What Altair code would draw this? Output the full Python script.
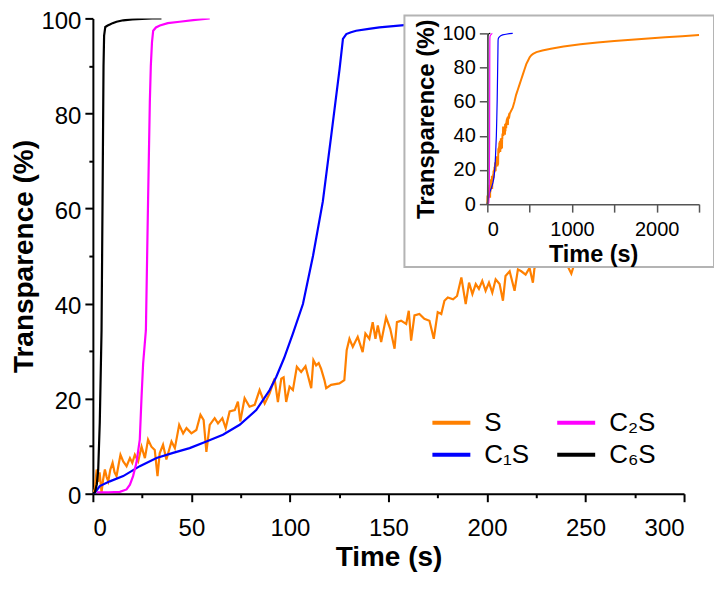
import altair as alt
import pandas as pd

# ---------------- data ----------------
s_t = [0, 1, 1.9, 2.6, 3.4, 4.4, 5.2, 6.1, 7, 7.8, 8.8, 10, 11, 12, 13, 14, 15.4, 17.1, 18.8, 20,
       21.3, 23, 24.7, 26.4, 28, 29.7, 31.4, 32.8, 33.9, 35.6, 37.3, 39.9, 41.6, 43.8, 45.8, 47.5,
       50, 52.5, 54.6, 56.2, 57.6, 59.3, 61.8, 63.5, 65.7, 67.4, 69.4, 72, 73.6, 74.8, 77, 79.5,
       82.1, 84.6, 87.2, 89.7, 92.2, 93.9, 95.6, 96.8, 98.1, 99.8, 101.5, 103.5, 105.7, 107.9,
       110.8, 111.9, 113.3, 114.6, 115.8, 117.5, 118.4, 120.9, 125.1, 127.6, 128.8, 130.2, 131.9,
       134.4, 136.9, 138.3, 140.3, 142, 143.4, 144.6, 146.3, 148.8, 150.9, 153.1, 154.3, 156.4,
       159, 160.3, 161.5, 163.2, 165.7, 168.2, 170.8, 173, 175, 176.8, 178.4, 180.1, 182.8, 184.8,
       187, 189.2, 190.9, 192.6, 194.3, 195.9, 197.6, 199.3, 201, 202.7, 204.4, 206.4, 208.1,
       209.4, 211.5, 214, 215.7, 217.4, 219.6, 221.6, 223.3, 224.1, 227, 231, 235, 239, 242.8,
       246, 250, 255, 260, 265, 270, 275, 280, 290, 300, 320, 340, 360, 380, 400, 420, 440, 460,
       480, 500, 520, 540, 580, 650, 750, 900, 1100, 1300, 1500, 1700, 1900, 2100, 2300, 2500]
s_v = [0, 1, 5.1, 2.5, 4.5, 0.3, 3, 5.1, 3.5, 2.6, 5, 6.5, 4.5, 3.7, 6, 8.2, 6.8, 5.8, 7.5, 6.5,
       8.2, 6.8, 9.9, 7.5, 11.4, 9.9, 9.2, 3.7, 8.5, 10.3, 7.2, 11, 9.6, 14.5, 12.7, 13.8,
       12.7, 13.4, 16.6, 15.5, 8.8, 14.5, 15.9, 14.8, 15.9, 13.8, 17.3, 17.6, 19.4, 15.2, 20.1, 18.3,
       18.7, 21.8, 19, 21.1, 24.2, 19.3, 24.2, 24.5, 19.3, 22.5, 21.8, 26.7, 25.6, 26.8,
       22.2, 28.1, 27, 27.5, 26.3, 23.9, 22.2, 22.9, 23.2, 23.9, 30.2, 32.6, 30.9,
       33, 29.8, 33.7, 32.6, 36.1, 32.6, 35.4, 31.9, 37.1, 34.7, 30.5, 36.1, 36.4,
       35.7, 38.5, 32.2, 37.5, 37.8, 36.8, 36.4, 32.6, 38.2, 37.8, 40.6, 41.3, 40.9, 41.6,
       45.5, 39.9, 44.4, 42, 44.1, 43.1, 44.8, 42.7, 44.4, 42.3, 45.1, 44.1, 40.6,
       45.8, 46.8, 42.7, 47.2, 46.8, 46.1, 47.5, 44.4, 47.5, 48.5, 49.5, 50, 49.5, 46.3,
       50.5, 51, 52, 51.5, 53, 53.5, 54, 54.5, 55.5, 56.5, 60, 64, 67, 70, 73, 76, 79, 82,
       84, 86, 87.2, 88, 89, 90, 91, 92.3, 93.6, 94.7, 95.5, 96.2, 97, 97.7, 98.3, 99]

c1_t = [0, 1, 3.5, 8.6, 15.4, 23.8, 32.3, 40.7, 49.1, 57.6, 66, 74.5, 82.9, 89.7, 93.1, 97,
        101.5, 106.6, 111.7, 116.7, 121, 125.2, 126.9, 128.6, 131, 133.6, 140, 145.4, 158,
        180, 220, 260, 300]
c1_v = [0, 0.2, 1.6, 2.6, 3.7, 5.8, 7.5, 8.6, 9.6, 11, 12.4, 14.5, 17.6, 21.8, 24.6, 28.5,
        33.7, 39.9, 50, 61.5, 75.5, 89.4, 95.7, 96.7, 97.1, 97.4, 97.8, 98.1, 98.6,
        99.1, 99.5, 99.8, 100]

c2_t = [2, 8, 13.7, 17.1, 18.8, 20.4, 22.1, 23.8, 24.7, 25.5, 26.9, 28, 28.9, 29.4, 30, 30.6,
        32, 34, 38, 44, 52, 59.3]
c2_v = [0.3, 0.3, 0.4, 0.9, 1.9, 3.7, 6.5, 11.4, 20.4, 27.4, 34.4, 61.5, 82.4, 90, 95, 97.4,
        98.1, 98.5, 99, 99.3, 99.7, 100]

c6_t = [0, 1, 2, 2.7, 3.5, 4.4, 4.9, 5.4, 5.7, 6.3, 7.5, 8.6, 10, 12, 15.4, 20, 25, 30, 34.8]
c6_v = [0, 0.3, 2, 5, 15, 34.4, 61.5, 90, 96.4, 98.2, 98.5, 98.7, 99, 99.3, 99.6, 99.8, 99.9, 100, 100]

series_names = ["S", "C₁S", "C₂S", "C₆S"]
series_colors = ["#FF8000", "#0000FF", "#FF00FF", "#000000"]

rows = []
for name, ts, vs in [("S", s_t, s_v), ("C₁S", c1_t, c1_v), ("C₂S", c2_t, c2_v), ("C₆S", c6_t, c6_v)]:
    for t, v in zip(ts, vs):
        rows.append({"series": name, "t": t, "v": v})
df = pd.DataFrame(rows)

FONT = "Liberation Sans"
color_scale = alt.Scale(domain=series_names, range=series_colors)

W, H = 592, 476

main = alt.Chart(df).mark_line(clip=True, strokeWidth=2.2).encode(
    x=alt.X("t:Q", scale=alt.Scale(domain=[0, 300], nice=False, zero=False),
            axis=alt.Axis(values=list(range(0, 301, 25)),
                          labelExpr="datum.value % 50 === 0 ? datum.label : ''",
                          tickSize=8, tickWidth=2, tickColor="black",
                          tickDash={"condition": {"test": "datum.value % 50 !== 0", "value": [4, 30]},
                                    "value": [40, 0]},
                          domainColor="black", domainWidth=2,
                          labelFont=FONT, labelFontSize=24, labelColor="black",
                          labelPadding=15, labelOverlap=False,
                          title="Time (s)", titleFont=FONT, titleFontSize=28,
                          titleFontWeight="bold", titleColor="black", titlePadding=3,
                          grid=False)),
    y=alt.Y("v:Q", scale=alt.Scale(domain=[0, 100], nice=False),
            axis=alt.Axis(values=list(range(0, 101, 10)),
                          labelExpr="datum.value % 20 === 0 ? datum.label : ''",
                          tickSize=8, tickWidth=2, tickColor="black",
                          tickDash={"condition": {"test": "datum.value % 20 !== 0", "value": [4, 30]},
                                    "value": [40, 0]},
                          domainColor="black", domainWidth=2,
                          labelFont=FONT, labelFontSize=24, labelColor="black",
                          labelPadding=4, labelOffset=3, labelOverlap=False,
                          title="Transparence (%)", titleFont=FONT, titleFontSize=28,
                          titleFontWeight="bold", titleColor="black", titlePadding=2,
                          grid=False)),
    color=alt.Color("series:N", scale=color_scale,
                    legend=alt.Legend(orient="none", legendX=338, legendY=392, columns=2,
                                      symbolType="stroke", symbolStrokeWidth=4, symbolSize=1444,
                                      labelFont=FONT, labelFontSize=26, labelColor="black",
                                      labelOffset=12, columnPadding=26, rowPadding=6,
                                      title=None, padding=0, clipHeight=26, labelLimit=0)),
)

frame = alt.Chart(pd.DataFrame({"k": [0]})).mark_rect(
    fill="white", stroke="#b4b4b4", strokeWidth=2
).encode(x=alt.value(312), x2=alt.value(622), y=alt.value(-3), y2=alt.value(249))

inset = alt.Chart(df).mark_line().encode(
    x=alt.X("t:Q", scale=alt.Scale(domain=[0, 2500], range=[395, 607], nice=False, zero=False),
            axis=alt.Axis(orient="bottom", offset=-290, zindex=2,
                          values=list(range(0, 2501, 500)),
                          labelExpr="datum.value % 1000 === 0 ? datum.label : ''",
                          format="d",
                          tickSize=8, tickWidth=1.5, tickColor="#555555",
                          domainColor="#555555", domainWidth=1.5,
                          labelFont=FONT, labelFontSize=20, labelColor="black",
                          labelPadding=7, labelOverlap=False,
                          title="Time (s)", titleFont=FONT, titleFontSize=23.5,
                          titleFontWeight="bold", titleColor="black", titlePadding=3,
                          grid=False)),
    y=alt.Y("v:Q", scale=alt.Scale(domain=[0, 100], range=[186, 15], nice=False),
            axis=alt.Axis(orient="left", offset=-395, zindex=2,
                          values=list(range(0, 101, 20)),
                          tickSize=8, tickWidth=1.5, tickColor="#555555",
                          domainColor="#555555", domainWidth=1.5,
                          labelFont=FONT, labelFontSize=20, labelColor="black",
                          labelPadding=4, labelOverlap=False,
                          title="Transparence (%)", titleFont=FONT, titleFontSize=24,
                          titleFontWeight="bold", titleColor="black", titlePadding=4,
                          grid=False)),
    color=alt.Color("series:N", scale=color_scale, legend=None),
    strokeWidth=alt.condition(alt.datum.series == "S", alt.value(2), alt.value(1.2)),
)

chart = alt.layer(main, frame, inset).resolve_scale(
    x="independent", y="independent"
).resolve_axis(
    x="independent", y="independent"
).resolve_legend(color="independent").properties(
    width=W, height=H,
    padding={"left": 85, "top": 10, "right": 30, "bottom": 90},
    autosize=alt.AutoSizeParams(type="none"),
    background="white",
).configure_view(stroke=None)

chart.save("out.html", embed_options={"renderer": "svg", "actions": False})
